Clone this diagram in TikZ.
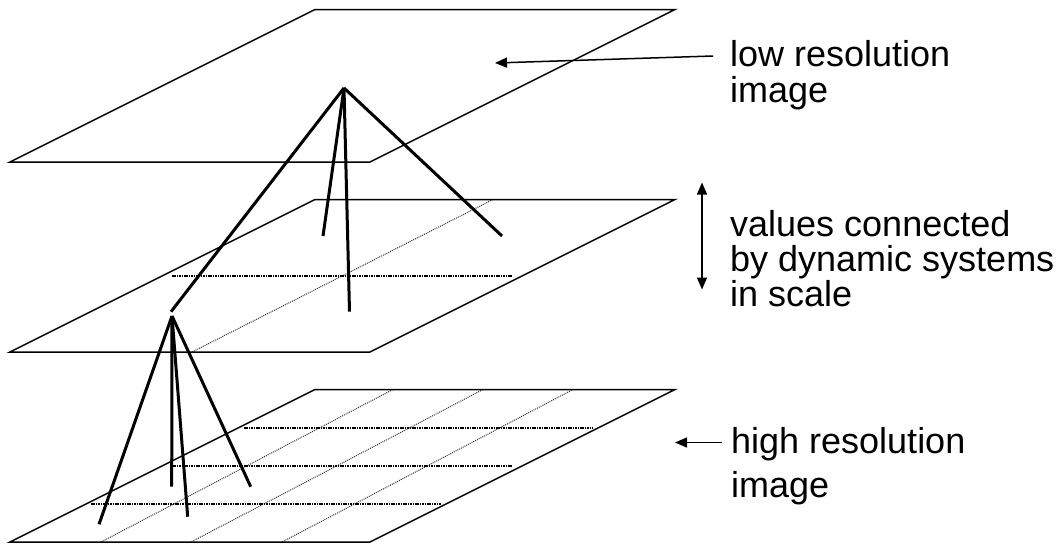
\documentclass[tikz,border=0pt]{standalone}
\usepackage{fontspec}
\setmainfont{Liberation Sans}
\usetikzlibrary{arrows.meta}
\tikzset{
  plane/.style={line width=1.5pt, line join=miter},
  leg/.style={line width=3pt},
  hdot/.style={line width=2.2pt, dash pattern=on 1.6pt off 0.8pt},
  ddot/.style={line width=1pt, black!80, dash pattern=on 1pt off 1pt},
  pointer/.style={line width=1.5pt, -{Triangle[length=12pt,width=10pt]}},
  twoway/.style={line width=1.5pt, {Triangle[length=12pt,width=10pt]}-{Triangle[length=12pt,width=10pt]}},
  lbl/.style={anchor=base west, inner sep=0pt, font=\fontsize{36}{36}\selectfont}
}
\begin{document}
\begin{tikzpicture}[x=1pt,y=-1pt]
\useasboundingbox (0,0) rectangle (1060,546);
% planes
\coordinate (t1) at (10,162); \coordinate (t2) at (370,162);
\coordinate (t3) at (675,9.5); \coordinate (t4) at (315,9.5);
\coordinate (m1) at (10,352); \coordinate (m2) at (370,352);
\coordinate (m3) at (675,199.5); \coordinate (m4) at (315,199.5);
\coordinate (b1) at (10,542); \coordinate (b2) at (370,542);
\coordinate (b3) at (675,389.5); \coordinate (b4) at (315,389.5);
% grid of middle plane
\coordinate (mh1) at (172,276); \coordinate (mh2) at (512,276);
\coordinate (md1) at (192,352); \coordinate (md2) at (493,199.5);
\draw[ddot] (md1) -- (md2);
\draw[hdot] (mh1) -- (mh2);
% grid of bottom plane
\coordinate (bd1a) at (101,542); \coordinate (bd1b) at (393,389.5);
\coordinate (bd2a) at (191,542); \coordinate (bd2b) at (483,389.5);
\coordinate (bd3a) at (282,542); \coordinate (bd3b) at (573,389.5);
\draw[ddot] (bd1a) -- (bd1b);
\draw[ddot] (bd2a) -- (bd2b);
\draw[ddot] (bd3a) -- (bd3b);
\coordinate (bh1a) at (244,427.7); \coordinate (bh1b) at (593,427.7);
\coordinate (bh2a) at (172,465.7); \coordinate (bh2b) at (512,465.7);
\coordinate (bh3a) at (91,504); \coordinate (bh3b) at (441,504);
\draw[hdot] (bh1a) -- (bh1b);
\draw[hdot] (bh2a) -- (bh2b);
\draw[hdot] (bh3a) -- (bh3b);
\draw[plane] (t1) -- (t2) -- (t3) -- (t4) -- cycle;
\draw[plane] (m1) -- (m2) -- (m3) -- (m4) -- cycle;
\draw[plane] (b1) -- (b2) -- (b3) -- (b4) -- cycle;
% upper pyramid
\coordinate (ua) at (344,88);
\coordinate (u1) at (171,311.7); \coordinate (u2) at (323,236);
\coordinate (u3) at (349.5,311.7); \coordinate (u4) at (502,236);
\draw[leg] (ua) -- (u1);
\draw[leg] (ua) -- (u2);
\draw[leg] (ua) -- (u3);
\draw[leg] (ua) -- (u4);
% lower pyramid
\coordinate (la) at (172,316);
\coordinate (l1) at (99,524.3); \coordinate (l2) at (171.7,486.7);
\coordinate (l3) at (187.7,516.7); \coordinate (l4) at (250.7,486.7);
\draw[leg] (la) -- (l1);
\draw[leg] (la) -- (l2);
\draw[leg] (la) -- (l3);
\draw[leg] (la) -- (l4);
% labels
\node[lbl] (low1) at (730,66.7) {low resolution};
\node[lbl] (low2) at (730,102) {image};
\node[lbl] (val1) at (730,236.7) {values connected};
\node[lbl] (val2) at (730,271.7) {by dynamic systems};
\node[lbl] (val3) at (730,306.7) {in scale};
\node[lbl] (high1) at (731,453.5) {high resolution};
\node[lbl] (high2) at (731,497.3) {image};
% arrows
\coordinate (lowtail) at (713,56); \coordinate (lowtip) at (495,63);
\draw[pointer] (lowtail) -- (lowtip);
\coordinate (dtop) at (702,182.5); \coordinate (dbot) at (702,289.5);
\draw[twoway] (dtop) -- (dbot);
\coordinate (hightail) at (722,442.5); \coordinate (hightip) at (675,442.5);
\draw[pointer] (hightail) -- (hightip);
\end{tikzpicture}
\end{document}
